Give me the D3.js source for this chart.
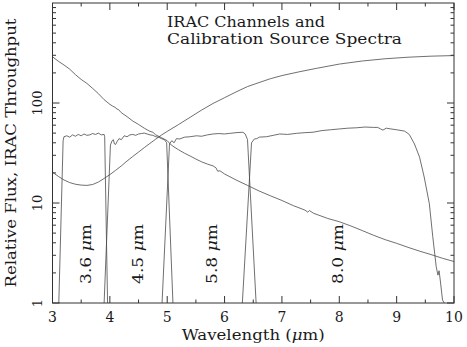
<!DOCTYPE html>
<html>
<head>
<meta charset="utf-8">
<script src="https://cdn.jsdelivr.net/npm/d3@7"></script>
<style>
  body { margin: 0; background: #fff; }
  svg { display: block; }
  text { font-family: "DejaVu Serif", serif; fill: #1a1a1a; }
</style>
</head>
<body>
<div id="chart"></div>
<script>
// IRAC channel throughput curves, [wavelength (um), throughput]
const ch36 = [[3.11,1],[3.185,42],[3.20,46],[3.25,47],[3.30,45.5],[3.35,48],[3.40,46.5],[3.45,48.5],[3.50,47],
  [3.55,49],[3.60,47.5],[3.65,48],[3.70,49.5],[3.75,48.5],[3.80,50],[3.85,48],[3.90,48.5],[3.91,46],[3.96,1]];
const ch45 = [[3.90,1],[4.01,38],[4.04,42],[4.06,43],[4.08,39],[4.10,38.5],[4.13,41.5],[4.16,44],[4.20,43],
  [4.25,47],[4.30,46],[4.35,48],[4.40,48.5],[4.45,47.5],[4.50,49],[4.55,49.5],[4.60,50],[4.65,49],[4.70,48],
  [4.75,47.5],[4.80,46],[4.85,45.5],[4.90,44],[4.95,43],[4.99,40],[5.10,1]];
const ch58 = [[4.91,1],[5.04,39],[5.08,42],[5.12,40],[5.16,44],[5.22,43.7],[5.30,45.5],[5.40,46],[5.51,47],
  [5.60,46.5],[5.70,48],[5.80,49],[5.90,49.5],[6.00,49],[6.09,49.7],[6.20,50.5],[6.32,51],[6.36,49],[6.40,43],[6.55,1]];
const ch80 = [[6.31,1],[6.47,40],[6.52,43.7],[6.56,44],[6.61,45.6],[6.73,46],[6.85,47.5],[6.96,49],[7.10,48.5],
  [7.25,49.7],[7.40,50.5],[7.54,51],[7.70,53],[7.85,54],[8.00,55],[8.15,56],[8.30,56.5],[8.45,57.5],[8.60,57],
  [8.67,57],[8.72,55],[8.76,53.6],[8.82,56],[8.90,55],[9.00,54],[9.14,52.3],[9.22,48.5],[9.31,39],[9.40,28.7],
  [9.48,18.2],[9.57,9.85],[9.63,4.6],[9.69,2.3],[9.72,1.9],[9.74,2.1],[9.76,1.7],[9.80,1.07],[9.83,1]];

// calibration source spectra, [wavelength (um), relative flux]
const hotStar = [[3.00,290],[3.10,262],[3.20,240],[3.30,218],[3.40,192],[3.50,172],[3.60,157],[3.70,140],
  [3.80,124],[3.90,108],[4.00,97],[4.05,93],[4.10,90],[4.12,87],[4.15,86],[4.20,80],[4.30,73],[4.40,66],
  [4.50,61],[4.60,56],[4.70,52],[4.75,51],[4.80,48],[4.90,45],[5.00,42],[5.05,39],[5.10,37],[5.20,34],
  [5.30,31.5],[5.40,29.5],[5.50,27.5],[5.60,25.8],[5.70,24.5],[5.80,23.5],[5.85,22.5],[5.88,20.8],[5.92,21],
  [6.00,19.5],[6.20,17],[6.40,15],[6.60,13.2],[6.80,11.8],[7.00,10.6],[7.20,9.4],[7.40,8.5],[7.45,8.1],
  [7.48,8.4],[7.55,7.9],[7.80,7.0],[8.00,6.5],[8.20,5.9],[8.40,5.3],[8.60,4.75],[8.80,4.3],[9.00,3.95],
  [9.20,3.6],[9.40,3.3],[9.60,3.05],[9.80,2.8],[10.00,2.6]];
const coolStar = [[3.00,20.3],[3.10,18.5],[3.20,17],[3.30,16],[3.40,15.4],[3.50,15.1],[3.60,15.0],[3.70,15.3],
  [3.80,16.2],[3.90,17.6],[4.00,19.2],[4.10,21.2],[4.20,23.5],[4.30,26.3],[4.40,29.2],[4.50,32.3],[4.60,35.8],
  [4.70,39.5],[4.80,43.5],[4.90,47.8],[5.00,52],[5.20,61],[5.40,72],[5.60,85],[5.80,99],[6.00,113],[6.20,129],
  [6.40,146],[6.60,160],[6.80,175],[7.00,188],[7.30,205],[7.60,222],[8.00,245],[8.40,263],[8.80,277],
  [9.20,287],[9.60,294],[10.00,298]];

const channelLabels = ["3.6", "4.5", "5.8", "8.0"];
const xMajor = [3, 4, 5, 6, 7, 8, 9, 10];
const xMinor = [3.5, 4.5, 5.5, 6.5, 7.5, 8.5, 9.5];
const yMajor = [1, 10, 100];
const yMinor = [2,3,4,5,6,7,8,9,20,30,40,50,60,70,80,90,200,300,400,500,600,700,800,900];

const width = 467, height = 347;
const x = d3.scaleLinear().domain([3, 10]).range([52.5, 454]);
const y = d3.scaleLog().domain([1, 1000]).range([303, 3]);
const [x0, x1] = x.range(), [y0, y1] = y.range();

const svg = d3.select("#chart").append("svg")
    .attr("width", width).attr("height", height);

svg.append("defs").append("clipPath").attr("id", "plot")
  .append("rect").attr("x", x0).attr("y", y1).attr("width", x1 - x0).attr("height", y0 - y1);

const line = d3.line().x(d => x(d[0])).y(d => y(d[1]));

svg.append("g")
    .attr("clip-path", "url(#plot)")
    .attr("fill", "none")
    .attr("stroke", "#4a4a4a")
    .attr("stroke-width", 0.8)
  .selectAll("path")
  .data([ch36, ch45, ch58, ch80, hotStar, coolStar])
  .join("path")
    .attr("d", line);

// ticks, pointing inward on all four sides
const ax = svg.append("g").attr("stroke", "#333").attr("stroke-width", 1);
function xTicks(vals, len) {
  ax.selectAll(null).data(vals).join("line")
    .attr("x1", d => x(d)).attr("x2", d => x(d)).attr("y1", y0).attr("y2", y0 - len);
  ax.selectAll(null).data(vals).join("line")
    .attr("x1", d => x(d)).attr("x2", d => x(d)).attr("y1", y1).attr("y2", y1 + len);
}
function yTicks(vals, len) {
  ax.selectAll(null).data(vals).join("line")
    .attr("y1", d => y(d)).attr("y2", d => y(d)).attr("x1", x0).attr("x2", x0 + len);
  ax.selectAll(null).data(vals).join("line")
    .attr("y1", d => y(d)).attr("y2", d => y(d)).attr("x1", x1).attr("x2", x1 - len);
}
xTicks(xMajor, 7); xTicks(xMinor, 3.5);
yTicks(yMajor, 7); yTicks(yMinor, 3.5);

svg.append("rect")
    .attr("x", x0).attr("y", y1).attr("width", x1 - x0).attr("height", y0 - y1)
    .attr("fill", "none").attr("stroke", "#333").attr("stroke-width", 1);

// tick labels
svg.append("g").selectAll("text").data(xMajor).join("text")
    .attr("x", d => x(d)).attr("y", 322)
    .attr("text-anchor", "middle").style("font-size", "14px")
    .text(d => d);

svg.append("g").selectAll("text").data(yMajor).join("text")
    .attr("transform", d => `translate(42,${y(d)}) rotate(-90)`)
    .attr("text-anchor", "middle").style("font-size", "13px")
    .text(d => d);

// axis titles
const xl = svg.append("text")
    .attr("x", (x0 + x1) / 2).attr("y", 340)
    .attr("text-anchor", "middle").style("font-size", "14px")
    .attr("textLength", 143).attr("lengthAdjust", "spacingAndGlyphs");
xl.append("tspan").text("Wavelength (");
xl.append("tspan").style("font-style", "italic").text("\u03bc");
xl.append("tspan").text("m)");

svg.append("text")
    .attr("transform", `translate(16,${(y0 + y1) / 2}) rotate(-90)`)
    .attr("text-anchor", "middle").style("font-size", "14px")
    .attr("textLength", 269).attr("lengthAdjust", "spacingAndGlyphs")
    .text("Relative Flux, IRAC Throughput");

// title
svg.append("text").attr("x", 167).attr("y", 26.5).style("font-size", "15px")
    .attr("textLength", 158).attr("lengthAdjust", "spacingAndGlyphs")
    .text("IRAC Channels and");
svg.append("text").attr("x", 167).attr("y", 44).style("font-size", "15px")
    .attr("textLength", 235).attr("lengthAdjust", "spacingAndGlyphs")
    .text("Calibration Source Spectra");

// channel labels
const cl = svg.append("g").selectAll("text").data(channelLabels).join("text")
    .attr("transform", d => `translate(${x(+d) + 4},254) rotate(-90)`)
    .attr("text-anchor", "middle").style("font-size", "14px")
    .attr("textLength", 60).attr("lengthAdjust", "spacingAndGlyphs");
cl.append("tspan").text(d => d + " ");
cl.append("tspan").style("font-style", "italic").text("\u03bc");
cl.append("tspan").text("m");
</script>
</body>
</html>
